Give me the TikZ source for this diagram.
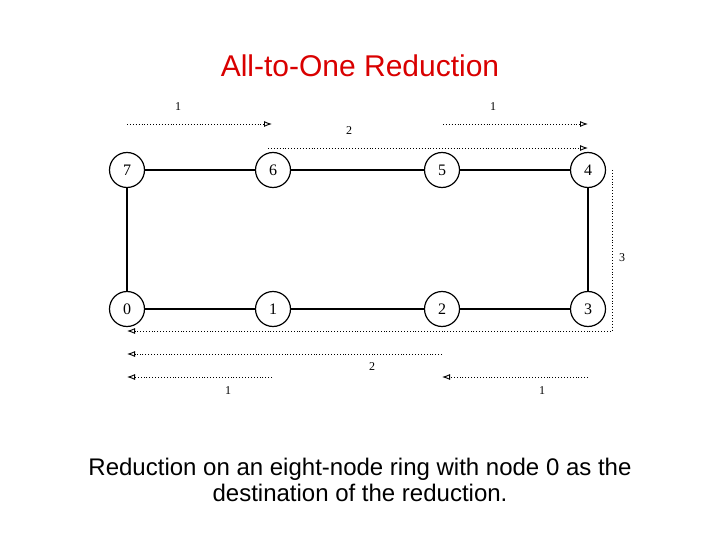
\documentclass[tikz,border=0pt]{standalone}
\usepackage{fontspec}
\setmainfont{Liberation Sans}
\newfontfamily\serifnum{Liberation Serif}
\usetikzlibrary{arrows.meta}
\begin{document}
\begin{tikzpicture}[x=1pt,y=-1pt,
  ringnode/.style={circle,draw,line width=1.2pt,minimum size=35pt,inner sep=0pt,font=\serifnum\fontsize{16}{16}\selectfont},
  link/.style={line width=2pt},
  msg/.style={dotted,line width=0.9pt,-{Latex[length=8pt,width=6pt,open]}},
  lbl/.style={font=\serifnum\fontsize{12}{12}\selectfont}]
\useasboundingbox (0,0) rectangle (720,540);
\node[text=red!85!black,font=\fontsize{30}{30}\selectfont] (title) at (360,66) {All-to-One Reduction};
\node[ringnode] (n7) at (127,170) {7};
\node[ringnode] (n6) at (273,170) {6};
\node[ringnode] (n5) at (442,170) {5};
\node[ringnode] (n4) at (588,170) {4};
\node[ringnode] (n0) at (127,309) {0};
\node[ringnode] (n1) at (273,309) {1};
\node[ringnode] (n2) at (442,309) {2};
\node[ringnode] (n3) at (588,309) {3};
\draw[link] (n7)--(n6) (n6)--(n5) (n5)--(n4) (n4)--(n3) (n3)--(n2) (n2)--(n1) (n1)--(n0) (n0)--(n7);
\coordinate (a1) at (127,124); \coordinate (b1) at (272,124);
\coordinate (a2) at (443,124); \coordinate (b2) at (588,124);
\coordinate (a3) at (268,148); \coordinate (b3) at (588,148);
\coordinate (c1) at (612,170); \coordinate (c2) at (612,331); \coordinate (c3) at (127,331);
\coordinate (d1) at (442,354); \coordinate (d2) at (127,354);
\coordinate (e1) at (272,377); \coordinate (e2) at (127,377);
\coordinate (f1) at (588,377); \coordinate (f2) at (442,377);
\draw[msg] (a1)--(b1);
\draw[msg] (a2)--(b2);
\draw[msg] (a3)--(b3);
\draw[msg] (c1)--(c2)--(c3);
\draw[msg] (d1)--(d2);
\draw[msg] (e1)--(e2);
\draw[msg] (f1)--(f2);
\node[lbl] (l1) at (178,107) {1};
\node[lbl] (l2) at (493,107) {1};
\node[lbl] (l3) at (349,131) {2};
\node[lbl] (l4) at (622,258) {3};
\node[lbl] (l5) at (372,367) {2};
\node[lbl] (l6) at (228,391) {1};
\node[lbl] (l7) at (542,391) {1};
\node[font=\fontsize{24}{26}\selectfont,align=center] (cap) at (360,480) {Reduction on an eight-node ring with node 0 as the\\destination of the reduction.};
\end{tikzpicture}
\end{document}
